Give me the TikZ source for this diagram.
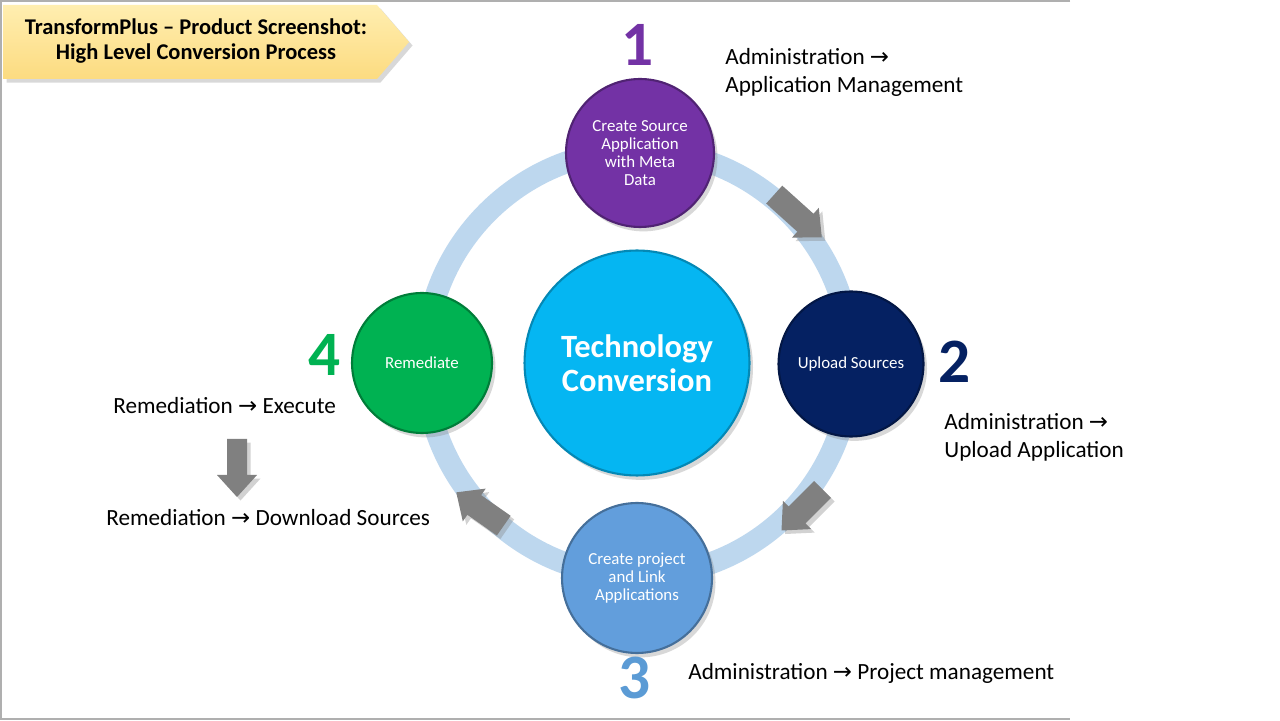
\documentclass[tikz,border=0pt]{standalone}
\usepackage{fontspec}
\setmainfont{Carlito}
\newfontfamily\arrfont{DejaVu Sans}
\usetikzlibrary{shadows}
\definecolor{ringblue}{RGB}{189,215,238}
\definecolor{cpurple}{RGB}{115,50,165}
\definecolor{cnavy}{RGB}{5,33,98}
\definecolor{clight}{RGB}{98,158,220}
\definecolor{cgreen}{RGB}{0,178,82}
\definecolor{ccyan}{RGB}{5,182,242}
\definecolor{numlight}{RGB}{91,155,213}
\definecolor{bannertop}{RGB}{255,238,176}
\definecolor{bannerbot}{RGB}{252,219,128}
\definecolor{framegray}{RGB}{175,175,175}
\definecolor{arrgray}{RGB}{128,128,128}
\newcommand{\ra}{{\arrfont\fontsize{13}{15}\selectfont →}}
\newcommand{\blockarr}[6]{% name, x, y, angle, length, shaft half width
  \begin{scope}[shift={(#2,#3)},rotate=#4]
    \path[fill=arrgray,drop shadow={opacity=0.35,shadow xshift=2pt,shadow yshift=-2pt}]
      (-#5/2,-#6) -- (#5/2-22,-#6) -- (#5/2-22,-20) -- (#5/2,0) -- (#5/2-22,20) -- (#5/2-22,#6) -- (-#5/2,#6) -- cycle;
    \coordinate (#1) at (0,0);
  \end{scope}}
\tikzset{
  step circle/.style={circle,inner sep=0pt,text=white,align=center,
    font=\fontsize{9.6}{10.2}\selectfont,line width=1.2pt,
    drop shadow={opacity=0.3,shadow xshift=2pt,shadow yshift=-2.5pt}},
  numtext/.style={inner sep=0pt,font=\fontsize{36}{40}\selectfont\bfseries},
  lbl/.style={inner sep=0pt,anchor=west,align=left,font=\fontsize{13.2}{15.9}\selectfont,text=black},
}
\begin{document}
\begin{tikzpicture}[x=0.02cm,y=0.02cm]
\useasboundingbox (0,0) rectangle (1280,720);
\fill[white] (0,0) rectangle (1280,720);
% frame
\draw[framegray,line width=1.2pt] (1070,719) -- (1,719) -- (1,1) -- (1070,1);
% ring
\coordinate (C) at (638,357);
\draw[ringblue,line width=0.44cm] (C) circle (213);
% title banner
\path[top color=bannertop,bottom color=bannerbot,drop shadow={opacity=0.3,shadow xshift=2pt,shadow yshift=-2pt}]
  (3,715) -- (377,715) -- (409,678) -- (377,641) -- (3,641) -- cycle;
\node[inner sep=0pt,align=center,font=\fontsize{12.8}{14.7}\selectfont\bfseries] (title) at (196,679)
  {TransformPlus -- Product Screenshot:\\High Level Conversion Process};
% circles
\node[step circle,fill=ccyan,draw=ccyan!75!black,minimum size=4.5cm,
  font=\fontsize{18.5}{19.3}\selectfont\bfseries] (center) at (637,357) {Technology\\Conversion};
\node[step circle,fill=cpurple,draw=cpurple!70!black,minimum size=2.96cm] (s1) at (640,567)
  {Create Source\\Application\\with Meta\\Data};
\node[step circle,fill=cnavy,draw=cnavy!70!black,minimum size=2.9cm] (s2) at (851,356)
  {Upload Sources};
\node[step circle,fill=clight,draw=clight!70!black,minimum size=3.0cm] (s3) at (637,142)
  {Create project\\and Link\\Applications};
\node[step circle,fill=cgreen,draw=cgreen!70!black,minimum size=2.8cm] (s4) at (422,357)
  {Remediate};
% numbers
\node[numtext,text=cpurple] (n1) at (638,675) {1};
\node[numtext,text=cnavy] (n2) at (955,358) {2};
\node[numtext,text=numlight] (n3) at (635,42) {3};
\node[numtext,text=cgreen] (n4) at (325,365) {4};
% labels
\node[lbl] (l1) at (725,648) {Administration \ra\\Application Management};
\node[lbl] (l2) at (944,283) {Administration \ra\\Upload Application};
\node[lbl] (l3) at (688,47) {Administration \ra{} Project management};
\node[lbl] (l4a) at (113,314) {Remediation \ra{} Execute};
\node[lbl] (l4b) at (106,202) {Remediation \ra{} Download Sources};
% block arrows
\blockarr{a1}{798}{504}{-42}{64}{12}
\blockarr{a2}{802}{210}{-135}{58}{12}
\blockarr{a3}{480}{211}{145}{58}{12}
\blockarr{a4}{237}{252}{-90}{58}{10}
\end{tikzpicture}
\end{document}
